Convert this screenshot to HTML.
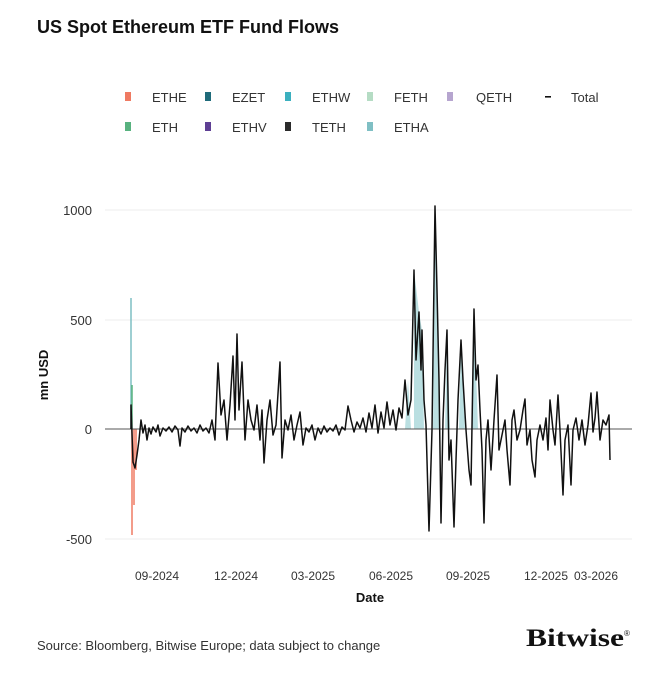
<!DOCTYPE html>
<html><head><meta charset="utf-8"><style>
body{margin:0;background:#fff;width:671px;height:671px;overflow:hidden;font-family:"Liberation Sans",sans-serif;}
</style></head><body>
<svg width="671" height="671" xmlns="http://www.w3.org/2000/svg" font-family="Liberation Sans, sans-serif">
<text x="37" y="33" font-size="18" font-weight="bold" fill="#111">US Spot Ethereum ETF Fund Flows</text>
<g font-size="13" fill="#333">
<rect x="125" y="92" width="6" height="9" fill="#ef7a62"/><text x="152" y="102">ETHE</text>
<rect x="205" y="92" width="6" height="9" fill="#1f6b7a"/><text x="232" y="102">EZET</text>
<rect x="285" y="92" width="6" height="9" fill="#3bb0bf"/><text x="312" y="102">ETHW</text>
<rect x="367" y="92" width="6" height="9" fill="#b5dcc4"/><text x="394" y="102">FETH</text>
<rect x="447" y="92" width="6" height="9" fill="#b6a5cf"/><text x="476" y="102">QETH</text>
<rect x="545" y="96" width="6" height="1.6" fill="#111"/><text x="571" y="102">Total</text>
<rect x="125" y="122" width="6" height="9" fill="#58b27f"/><text x="152" y="132">ETH</text>
<rect x="205" y="122" width="6" height="9" fill="#5e3f94"/><text x="232" y="132">ETHV</text>
<rect x="285" y="122" width="6" height="9" fill="#2b2b2b"/><text x="312" y="132">TETH</text>
<rect x="367" y="122" width="6" height="9" fill="#7fbfc4"/><text x="394" y="132">ETHA</text>
</g>
<g stroke="#eee" stroke-width="1"><line x1="105" y1="210" x2="632" y2="210"/><line x1="105" y1="320" x2="632" y2="320"/><line x1="105" y1="539" x2="632" y2="539"/></g>
<g font-size="13" fill="#333" text-anchor="end"><text x="92" y="215">1000</text><text x="92" y="325">500</text><text x="92" y="434">0</text><text x="92" y="544">-500</text></g>
<text transform="translate(48,375) rotate(-90)" font-size="13" font-weight="bold" text-anchor="middle" fill="#111">mn USD</text>
<g font-size="12" fill="#333" text-anchor="middle"><text x="157" y="580">09-2024</text><text x="236" y="580">12-2024</text><text x="313" y="580">03-2025</text><text x="391" y="580">06-2025</text><text x="468" y="580">09-2025</text><text x="546" y="580">12-2025</text><text x="596" y="580">03-2026</text></g>
<text x="370" y="602" font-size="13" font-weight="bold" text-anchor="middle" fill="#111">Date</text>
<g stroke-width="1.5">
<line x1="131" y1="429" x2="131" y2="298" stroke="#7fbfc4"/><line x1="132" y1="429" x2="132" y2="385" stroke="#58b27f"/>
<line x1="132" y1="429" x2="132" y2="535" stroke="#ef7a62"/><line x1="134" y1="429" x2="134" y2="505" stroke="#ef7a62"/>
<line x1="136" y1="429" x2="136" y2="470" stroke="#ef7a62"/>
</g>
<path d="M414,429 L414,270 L419,312 L422,330 L424,429 Z M433,429 L435,206 L440,429 Z M445,429 L447,330 L450,429 Z M459,429 L461,340 L465,429 Z M472,429 L474,309 L478,429 Z M405,429 L408,380 L411,429Z" fill="#a9d7d9" opacity="0.8"/>
<line x1="105" y1="429" x2="632" y2="429" stroke="#555" stroke-width="1"/>
<polyline fill="none" stroke="#111" stroke-width="1.5" stroke-linejoin="round" points="131,429 131,405 133,462 135,468 137,455 139,440 141,420 143,433 145,425 147,440 149,428 151,434 153,427 156,432 158,425 160,436 163,428 166,431 169,427 172,432 175,426 178,430 180,446 182,428 185,432 188,426 191,431 194,428 197,433 200,425 203,431 206,428 209,433 212,420 215,440 218,363 221,415 224,400 227,440 230,405 233,356 235,420 237,334 239,410 242,362 245,440 248,400 251,420 254,430 257,405 260,440 262,410 264,463 267,420 270,400 273,435 276,425 280,362 282,458 285,420 288,430 291,415 294,440 297,425 300,412 303,445 306,428 309,432 312,425 315,440 318,428 321,434 324,426 327,432 330,428 333,431 336,425 339,435 342,427 345,430 348,406 351,420 354,432 357,422 360,428 363,418 366,432 369,413 372,428 375,405 378,433 381,412 384,428 387,402 390,425 393,410 396,430 399,408 402,418 405,380 408,415 411,400 414,270 416,360 419,312 421,370 422,330 424,400 426,425 429,531 432,430 435,206 437,290 439,380 441,523 443,420 445,370 447,330 449,460 451,440 454,527 456,460 458,400 461,340 463,380 466,430 469,470 471,485 474,309 476,380 478,365 480,410 482,450 484,523 486,440 488,420 491,470 494,420 497,375 499,450 502,435 505,420 507,450 510,485 512,420 514,410 517,440 520,430 523,410 525,399 527,445 530,430 532,460 535,477 537,440 540,425 543,440 546,418 548,450 550,400 553,430 555,445 558,395 560,430 563,495 565,440 568,425 571,485 573,430 576,418 579,440 582,420 585,445 588,425 591,393 593,432 595,418 597,392 600,440 603,420 606,425 609,415 610,460"/>
<text x="37" y="650" font-size="13" fill="#333">Source: Bloomberg, Bitwise Europe; data subject to change</text>
<text x="526" y="646" font-size="25" font-family="Liberation Serif, serif" font-weight="bold" fill="#111" textLength="98" lengthAdjust="spacingAndGlyphs">Bitwise</text><text x="624" y="636" font-size="8" fill="#111">®</text>
</svg>
</body></html>
